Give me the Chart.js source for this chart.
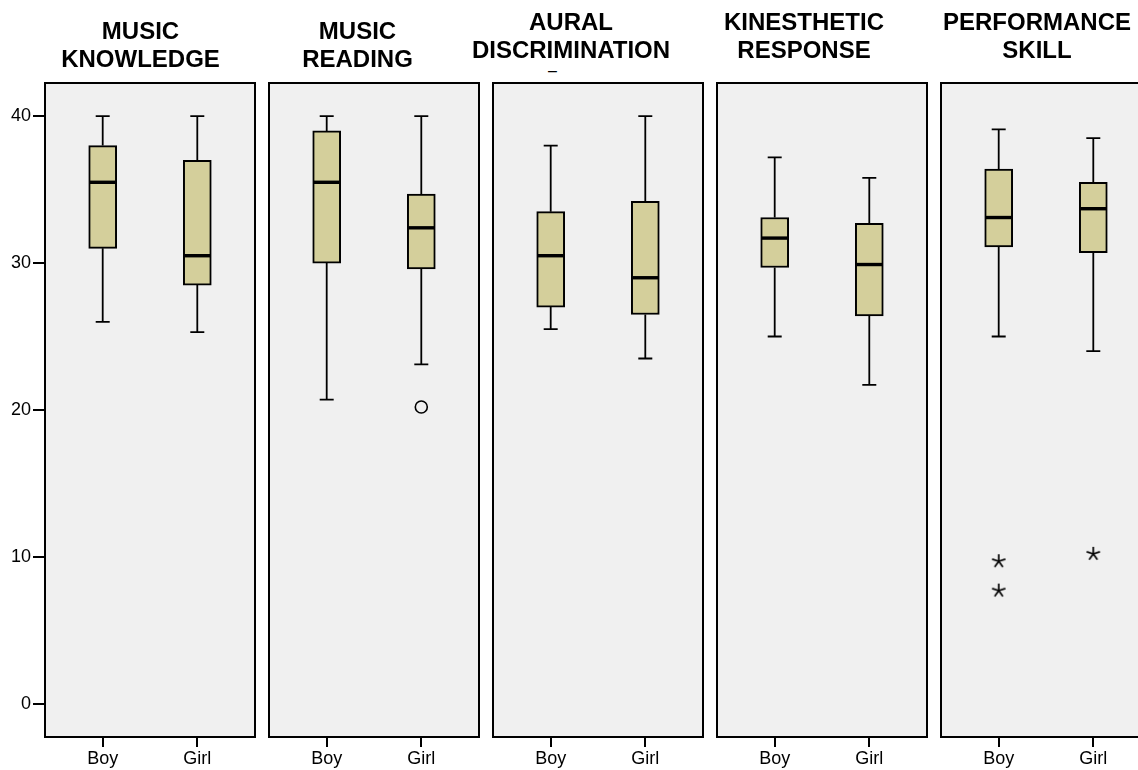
<!DOCTYPE html>
<html>
<head>
<meta charset="utf-8">
<script src="https://cdn.jsdelivr.net/npm/chart.js@4/dist/chart.umd.min.js"></script>
<style>
html, body { margin:0; padding:0; background:#fff; overflow:hidden; width:1138px; height:770px; }
canvas { position:absolute; top:0; }
.ttl { position:absolute; font:bold 24px "Liberation Sans", Arial, sans-serif; line-height:27.5px;
       text-align:center; white-space:pre; color:#000; transform:translateX(-50%); }
.dash { position:absolute; left:548px; top:62px; font:16px "Liberation Sans", Arial, sans-serif; color:#000; }
</style>
</head>
<body>
<div class="dash">–</div>
<script>
// Dados: escores por grupo (Boy / Girl) em cada área
const titulos = ['MUSIC\nKNOWLEDGE', 'MUSIC\nREADING', 'AURAL\nDISCRIMINATION', 'KINESTHETIC\nRESPONSE', 'PERFORMANCE\nSKILL'];
const grupos = ['Boy', 'Girl'];
const yTicks = [0, 10, 20, 30, 40];

// cada linha = uma área, [Boy, Girl]
const bigodeInf = [[26, 25.3], [20.7, 23.1], [25.5, 23.5], [25, 21.7], [25, 24]];
const quartil1  = [[31, 28.5], [30, 29.6], [27, 26.5], [29.7, 26.4], [31.1, 30.7]];
const mediana   = [[35.5, 30.5], [35.5, 32.4], [30.5, 29], [31.7, 29.9], [33.1, 33.7]];
const quartil3  = [[38, 37], [39, 34.7], [33.5, 34.2], [33.1, 32.7], [36.4, 35.5]];
const bigodeSup = [[40, 40], [40, 40], [38, 40], [37.2, 35.8], [39.1, 38.5]];

// outliers: circulo (moderado) e estrela (extremo)
const outCirculo = [[[], []], [[], [20.2]], [[], []], [[], []], [[], []]];
const outEstrela = [[[], []], [[], []], [[], []], [[], []], [[9.7, 7.7], [10.2]]];

// posicao de cada painel na pagina
const painelX = [45, 269, 493, 717, 941];
const tituloX = [140.5, 357.5, 571, 804, 1037];
const tituloY = [17, 17, 8, 8, 8];

const corCaixa = '#d4cf9b';
const corFundo = '#f0f0f0';
const fonte = '"Liberation Sans", Arial, sans-serif';

// marcador de asterisco (5 pontas)
const estrela = document.createElement('canvas');
estrela.width = 18; estrela.height = 18;
(function(){
  const c = estrela.getContext('2d');
  c.strokeStyle = '#000'; c.lineWidth = 1.7; c.lineCap = 'butt';
  for (let k = 0; k < 5; k++) {
    const a = -Math.PI/2 + k*2*Math.PI/5;
    c.beginPath(); c.moveTo(9, 9); c.lineTo(9 + 7*Math.cos(a), 9 + 7*Math.sin(a)); c.stroke();
  }
})();

// desenha fundo, bigodes, medianas e moldura usando as escalas do grafico
const boxPlugin = {
  id: 'boxes',
  beforeDraw(chart) {
    const a = chart.chartArea, ctx = chart.ctx;
    ctx.save(); ctx.fillStyle = corFundo;
    ctx.fillRect(a.left, a.top, a.right - a.left, a.bottom - a.top);
    ctx.restore();
  },
  beforeDatasetsDraw(chart, args, opts) {
    const i = opts.idx, xs = chart.scales.x, ys = chart.scales.y, ctx = chart.ctx;
    ctx.save(); ctx.strokeStyle = '#000'; ctx.lineWidth = 1.8;
    grupos.forEach((g, k) => {
      const x = xs.getPixelForValue(k);
      const yHi = ys.getPixelForValue(bigodeSup[i][k]), yQ3 = ys.getPixelForValue(quartil3[i][k]);
      const yLo = ys.getPixelForValue(bigodeInf[i][k]), yQ1 = ys.getPixelForValue(quartil1[i][k]);
      ctx.beginPath();
      ctx.moveTo(x, yHi); ctx.lineTo(x, yQ3);
      ctx.moveTo(x, yQ1); ctx.lineTo(x, yLo);
      ctx.moveTo(x - 7, yHi); ctx.lineTo(x + 7, yHi);
      ctx.moveTo(x - 7, yLo); ctx.lineTo(x + 7, yLo);
      ctx.stroke();
    });
    ctx.restore();
  },
  afterDatasetsDraw(chart, args, opts) {
    const i = opts.idx, xs = chart.scales.x, ys = chart.scales.y, ctx = chart.ctx, a = chart.chartArea;
    ctx.save(); ctx.strokeStyle = '#000';
    ctx.lineWidth = 3.4;
    grupos.forEach((g, k) => {
      const x = xs.getPixelForValue(k), y = ys.getPixelForValue(mediana[i][k]);
      ctx.beginPath(); ctx.moveTo(x - 13, y); ctx.lineTo(x + 13, y); ctx.stroke();
    });
    ctx.lineWidth = 2;
    ctx.strokeRect(a.left, a.top, a.right - a.left, a.bottom - a.top);
    ctx.restore();
  }
};

function renderPainel(i) {
  const cv = document.createElement('canvas');
  const primeiro = i === 0;
  const esq = primeiro ? 0 : painelX[i] - 3;
  const larg = primeiro ? 258 : 216;
  cv.width = larg; cv.height = 770;
  cv.style.left = esq + 'px'; cv.style.width = larg + 'px'; cv.style.height = '770px';
  document.body.appendChild(cv);

  const t = document.createElement('div');
  t.className = 'ttl'; t.textContent = titulos[i];
  t.style.left = tituloX[i] + 'px'; t.style.top = tituloY[i] + 'px';
  document.body.appendChild(t);

  const datasets = [{
    type: 'bar',
    data: grupos.map((g, k) => ({ x: k, y: [quartil1[i][k], quartil3[i][k]] })),
    backgroundColor: corCaixa, borderColor: '#000', borderWidth: 2, borderSkipped: false,
    barThickness: 28
  }, {
    type: 'scatter',
    data: grupos.flatMap((g, k) => outCirculo[i][k].map(v => ({ x: k, y: v }))),
    pointStyle: 'circle', radius: 6, borderColor: '#000', borderWidth: 1.6, backgroundColor: 'rgba(0,0,0,0)'
  }, {
    type: 'scatter',
    data: grupos.flatMap((g, k) => outEstrela[i][k].map(v => ({ x: k, y: v }))),
    pointStyle: estrela, radius: 9
  }];

  new Chart(cv.getContext('2d'), {
    type: 'bar',
    data: { datasets },
    options: {
      responsive: false, animation: false, events: [],
      layout: { autoPadding: false, padding: { top: 83, left: primeiro ? 0 : 3, right: 3, bottom: 0 } },
      plugins: { legend: { display: false }, tooltip: { enabled: false }, boxes: { idx: i } },
      scales: {
        x: {
          type: 'linear', min: -0.61, max: 1.61, offset: false,
          afterBuildTicks: s => { s.ticks = grupos.map((g, k) => ({ value: k })); },
          afterFit: s => { s.height = 33; },
          ticks: { callback: v => grupos[v], color: '#000', font: { family: fonte, size: 18 }, padding: 1, maxRotation: 0, autoSkip: false },
          grid: { offset: false, drawOnChartArea: false, tickLength: 10, color: '#000', lineWidth: 2 },
          border: { display: false }
        },
        y: {
          display: true, min: -2.27, max: 42.26,
          afterBuildTicks: s => { s.ticks = yTicks.map(v => ({ value: v })); },
          afterFit: s => { s.width = primeiro ? 45 : 0; },
          ticks: { display: primeiro, color: '#000', font: { family: fonte, size: 18 }, padding: 2 },
          grid: { display: primeiro, drawOnChartArea: false, tickLength: 12, color: '#000', lineWidth: 2 },
          border: { display: false }
        }
      }
    },
    plugins: [boxPlugin]
  });
}

titulos.forEach((t, i) => renderPainel(i));
</script>
</body>
</html>
